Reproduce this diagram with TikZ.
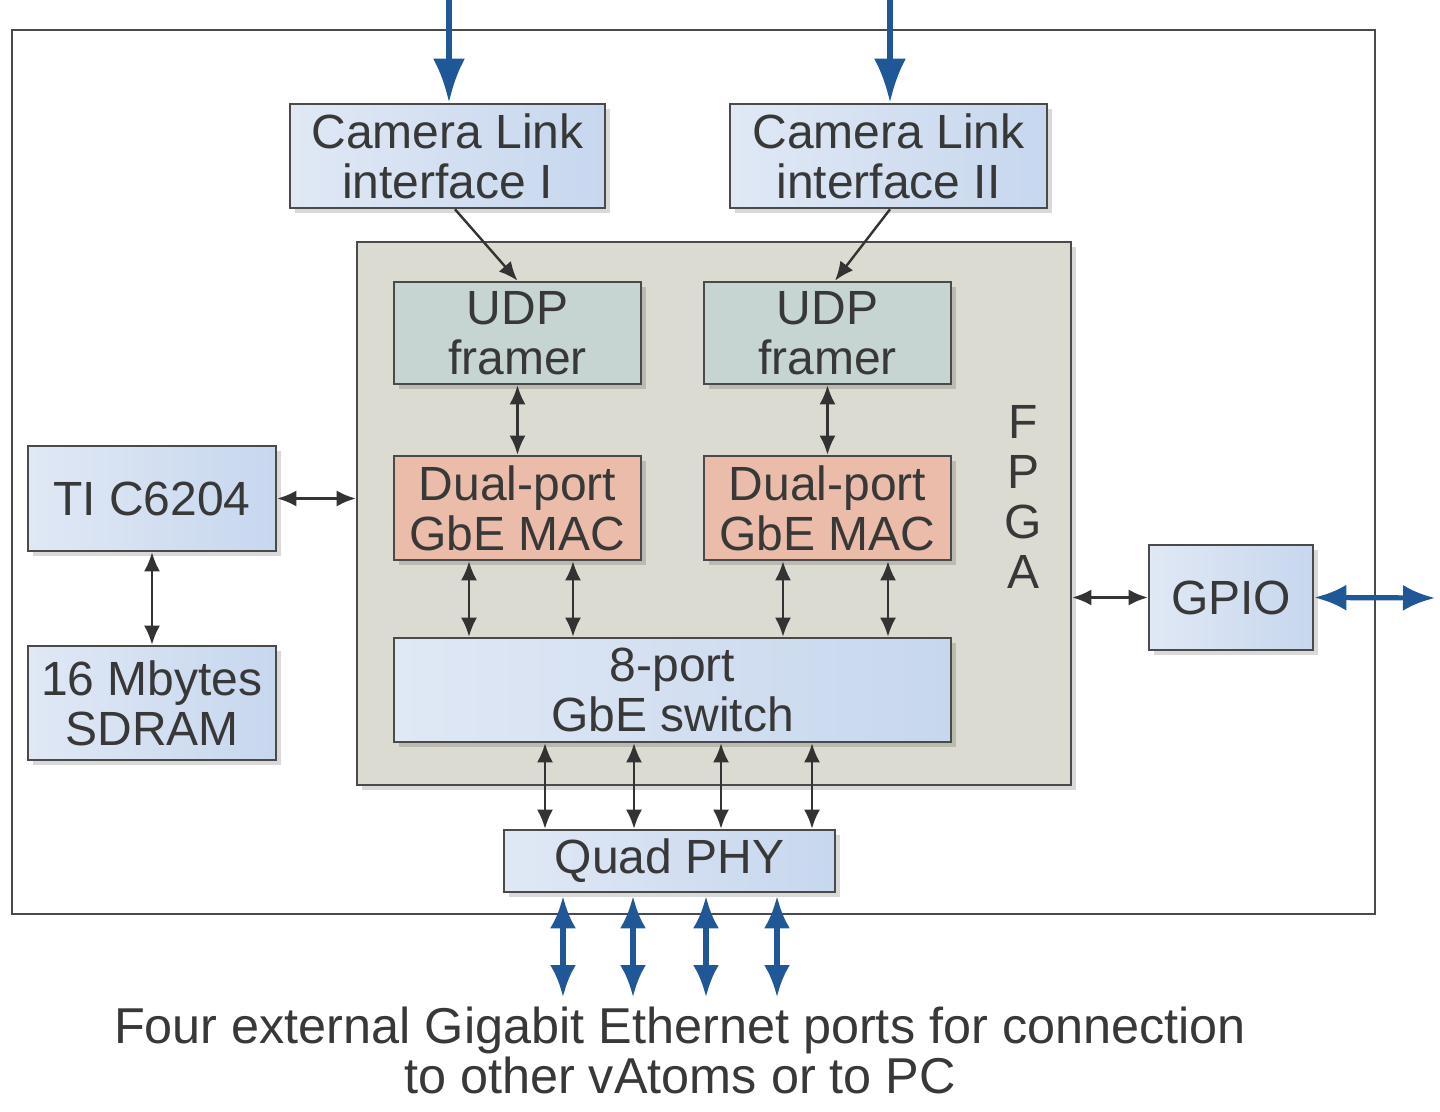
\documentclass[tikz,border=0pt]{standalone}
\usepackage{fontspec}
\setmainfont{Liberation Sans}
\usetikzlibrary{arrows.meta,shadows}
\definecolor{txtc}{HTML}{383838}
\definecolor{linec}{HTML}{4A4A4A}
\definecolor{blueL}{HTML}{E0E8F5}
\definecolor{blueR}{HTML}{C7D7EE}
\definecolor{udpc}{HTML}{C6D5D2}
\definecolor{macc}{HTML}{EABCA9}
\definecolor{fpgac}{HTML}{DBDBD1}
\definecolor{arrblue}{HTML}{1F5797}
\definecolor{arrblk}{HTML}{333333}
\newcommand{\bigtxt}{\fontsize{24}{25}\selectfont}
\newcommand{\captxt}{\fontsize{25.2}{25}\selectfont}
\tikzset{
  boxbase/.style={draw=linec, line width=1.3pt, inner sep=0pt, align=center,
    text=txtc, font=\bigtxt,
    drop shadow={shadow xshift=2.5pt, shadow yshift=-2.5pt, opacity=0.15, fill=black}},
  lb/.style={boxbase, left color=blueL, right color=blueR},
  udpbox/.style={boxbase, fill=udpc},
  macbox/.style={boxbase, fill=macc},
  fpgabox/.style={boxbase, fill=fpgac},
  darr/.style={arrblk, line width=1.2pt, {Latex[length=9.5pt,width=8pt]}-{Latex[length=9.5pt,width=8pt]}},
  sarr/.style={arrblk, line width=1.2pt, -{Latex[length=9.5pt,width=8pt]}},
  bdarr/.style={arrblue, line width=2.6pt, {Latex[length=16pt,width=13pt]}-{Latex[length=16pt,width=13pt]}},
  barr/.style={arrblue, line width=3pt, -{Latex[length=22pt,width=16pt]}},
}
\begin{document}
\begin{tikzpicture}[x=0.5pt,y=-0.5pt]
\useasboundingbox (0,0) rectangle (1440,1112);
% outer board
\draw[linec, line width=1.3pt, fill=white] (12,30) rectangle (1375,914);
% FPGA
\node[fpgabox, minimum width=357pt, minimum height=271.5pt] (fpga) at (714,513.5) {};
\node[text=txtc, font=\bigtxt, align=center, inner sep=0pt] (fpgalbl) at (1023,497) {F\\P\\G\\A};
% Camera link
\node[lb, minimum width=157.5pt, minimum height=52pt] (cl1) at (447.5,156) {Camera Link\\interface I};
\node[lb, minimum width=158.5pt, minimum height=52pt] (cl2) at (888.5,156) {Camera Link\\interface II};
% UDP framers
\node[udpbox, minimum width=123.5pt, minimum height=51pt] (udp1) at (517.5,333) {UDP\\framer};
\node[udpbox, minimum width=123.5pt, minimum height=51pt] (udp2) at (827.5,333) {UDP\\framer};
% MACs
\node[macbox, minimum width=123.5pt, minimum height=52pt] (mac1) at (517.5,508) {Dual-port\\GbE MAC};
\node[macbox, minimum width=123.5pt, minimum height=52pt] (mac2) at (827.5,508) {Dual-port\\GbE MAC};
% switch
\node[lb, minimum width=278.5pt, minimum height=52pt] (sw) at (672.5,690) {8-port\\GbE switch};
% Quad PHY
\node[lb, minimum width=165.5pt, minimum height=31pt] (phy) at (669.5,861) {Quad PHY};
% DSP and memory
\node[lb, minimum width=124pt, minimum height=52.5pt] (ti) at (152,498.5) {TI C6204};
\node[lb, minimum width=124pt, minimum height=57pt] (sdram) at (152,703) {16 Mbytes\\SDRAM};
% GPIO
\node[lb, minimum width=82pt, minimum height=52.5pt] (gpio) at (1231,597.5) {GPIO};
% free ends
\coordinate (in1) at (449,0);
\coordinate (in2) at (890,0);
\coordinate (gout) at (1435,598);
\coordinate (e1) at (563,997);
\coordinate (e2) at (633,997);
\coordinate (e3) at (706,997);
\coordinate (e4) at (777,997);
% blue external arrows
\draw[barr] (in1) -- (in1 |- cl1.north);
\draw[barr] (in2) -- (in2 |- cl2.north);
\draw[bdarr] (gpio.east) -- (gout);
\foreach \e in {e1,e2,e3,e4} \draw[bdarr] ([yshift=-1.5pt]\e |- phy.south) -- (\e);
% internal arrows
\draw[sarr] ([xshift=3.75pt]cl1.south) -- (udp1.north);
\draw[sarr] ([xshift=0.75pt]cl2.south) -- ([xshift=3.75pt]udp2.north);
\draw[darr] (udp1.south) -- (mac1.north);
\draw[darr] (udp2.south) -- (mac2.north);
\draw[darr] (mac1.south -| 469,0) -- (sw.north -| 469,0);
\draw[darr] (mac1.south -| 573,0) -- (sw.north -| 573,0);
\draw[darr] (mac2.south -| 783,0) -- (sw.north -| 783,0);
\draw[darr] (mac2.south -| 888,0) -- (sw.north -| 888,0);
\foreach \xx in {545,634,721,812} \draw[darr] (sw.south -| \xx,0) -- (phy.north -| \xx,0);
\draw[darr] (ti.south) -- (sdram.north);
\draw[darr] (ti.east) -- (ti.east -| fpga.west);
\draw[darr] (gpio.west -| fpga.east) -- (gpio.west);
% caption
\node[text=txtc, font=\captxt, align=center, inner sep=0pt] (cap) at (680,1050) {Four external Gigabit Ethernet ports for connection\\to other vAtoms or to PC};
\end{tikzpicture}
\end{document}
